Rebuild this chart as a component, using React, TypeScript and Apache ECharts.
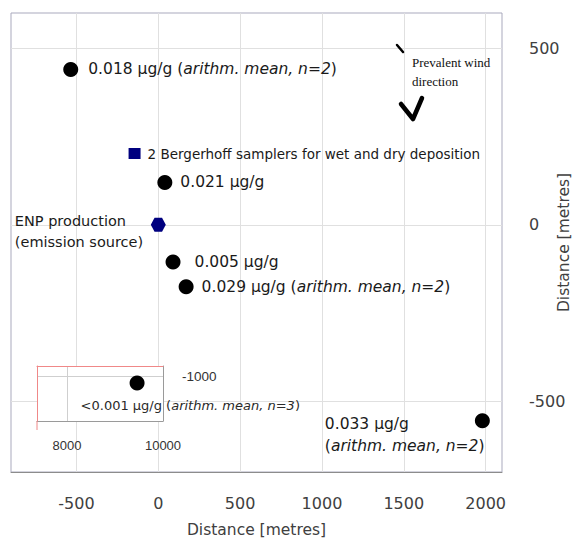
import React, { useEffect, useRef } from 'react';
import * as echarts from 'echarts';

// ---- data ----
const xTicks = [-500, 0, 500, 1000, 1500, 2000];
const yTicks = [-500, 0, 500];
const insetXTicks = [8000, 10000];
const insetYTicks = [-1000];

const sampleLabels = [
  '0.018 μg/g ({i|arithm. mean, n=2})',
  '0.021 μg/g',
  '0.005 μg/g',
  '0.029 μg/g ({i|arithm. mean, n=2})',
  '0.033 μg/g\n({i|arithm. mean, n=2})',
];
const sampleX = [-535, 40, 90, 170, 1980];
const sampleY = [440, 120, -105, -175, -555];

const samplerLabel = '2 Bergerhoff samplers for wet and dry deposition';
const samplerXY = [-145, 202];

const sourceLabel = ['ENP production', '(emission source)'];
const sourceXY = [0, 0];

const farLabel = '<0.001 μg/g ({i|arithm. mean, n=3})';
const farXY = [9460, -1035];

const windText = 'Prevalent wind\ndirection';

// ---- styles ----
const FONT = '"DejaVu Sans", sans-serif';
const TXT = '#1a1a1a';
const sampleLabelStyle: any[] = [
  { position: 'right', distance: 10 },
  { position: 'right', distance: 8 },
  { position: 'right', distance: 14 },
  { position: 'right', distance: 8 },
  { position: [-150, 0], align: 'left', verticalAlign: 'top', lineHeight: 22 },
];

const hexPath = 'path://M-0.5,-0.866 L0.5,-0.866 L1,0 L0.5,0.866 L-0.5,0.866 L-1,0 Z';
const plain = (v: number) => String(v);

export default function App() {
  const ref = useRef<HTMLDivElement>(null);
  useEffect(() => {
    if (!ref.current) return;
    const chart = echarts.init(ref.current, null, { renderer: 'svg' });
    const italic = (size: number, color = TXT) => ({ fontStyle: 'italic', fontSize: size, fontFamily: FONT, color });
    const option: any = {
      animation: false,
      backgroundColor: '#ffffff',
      grid: [
        { left: 11, top: 13, width: 491, height: 459, outerBoundsMode: 'none', containLabel: false, show: true, borderColor: '#a9a9bd', borderWidth: 1, backgroundColor: 'transparent' },
        { left: 37, top: 366, width: 126, height: 55, outerBoundsMode: 'none', containLabel: false, show: true, backgroundColor: '#ffffff', borderWidth: 0, z: 2 },
      ],
      xAxis: [
        {
          gridIndex: 0, type: 'value', min: -900, max: 2100, position: 'bottom',
          axisLine: { show: true, onZero: false, lineStyle: { color: '#8c8c8c' } },
          axisTick: { show: false, customValues: xTicks },
          axisLabel: { customValues: xTicks, formatter: plain, margin: 23, fontSize: 16, fontFamily: FONT, color: '#404040' },
          splitLine: { show: true, lineStyle: { color: '#e0e0e0' } },
          name: 'Distance [metres]', nameLocation: 'middle', nameGap: 50, nameMoveOverlap: false,
          nameTextStyle: { fontSize: 15.5, fontFamily: FONT, color: '#404040' },
        },
        {
          gridIndex: 1, type: 'value', min: 7375, max: 10000, position: 'bottom', z: 3,
          axisLine: { show: true, onZero: false, lineStyle: { color: '#9a9a9a' } },
          axisTick: { show: false, customValues: insetXTicks },
          axisLabel: { customValues: insetXTicks, formatter: plain, margin: 18, fontSize: 13, fontFamily: '"Liberation Sans", Arial, sans-serif', color: '#333' },
          splitLine: { show: true, lineStyle: { color: '#cfcfcf' } },
        },
        {
          gridIndex: 1, type: 'value', min: 7375, max: 10000, position: 'top', z: 3,
          axisLine: { show: true, onZero: false, lineStyle: { color: '#f08888' } },
          axisTick: { show: false }, axisLabel: { show: false }, splitLine: { show: false },
        },
      ],
      yAxis: [
        {
          gridIndex: 0, type: 'value', min: -700, max: 600, position: 'right',
          axisLine: { show: false, onZero: false },
          axisTick: { show: false, customValues: yTicks },
          axisLabel: { customValues: yTicks, formatter: plain, margin: 27, fontSize: 16, fontFamily: FONT, color: '#404040' },
          splitLine: { show: true, lineStyle: { color: '#e0e0e0' } },
          name: 'Distance [metres]', nameLocation: 'middle', nameRotate: 90, nameGap: 54, nameMoveOverlap: false,
          nameTextStyle: { fontSize: 15.5, fontFamily: FONT, color: '#404040' },
        },
        {
          gridIndex: 1, type: 'value', min: -1225, max: -950, position: 'right', z: 3,
          axisLine: { show: true, onZero: false, lineStyle: { color: '#9a9a9a' } },
          axisTick: { show: false, customValues: insetYTicks },
          axisLabel: { customValues: insetYTicks, formatter: plain, margin: 19, fontSize: 13.5, fontFamily: '"Liberation Sans", Arial, sans-serif', color: '#333' },
          splitLine: { show: true, lineStyle: { color: '#cfcfcf' } },
        },
        {
          gridIndex: 1, type: 'value', min: -1225, max: -950, position: 'left', z: 3,
          axisLine: { show: true, onZero: false, lineStyle: { color: '#f08888' } },
          axisTick: { show: false }, axisLabel: { show: false }, splitLine: { show: false },
        },
      ],
      series: [
        {
          type: 'scatter', xAxisIndex: 0, yAxisIndex: 0, symbol: 'circle', symbolSize: 15,
          itemStyle: { color: '#000000', opacity: 1 }, clip: false, z: 2,
          data: sampleX.map((x, i) => ({
            value: [x, sampleY[i]],
            label: {
              show: true, formatter: sampleLabels[i], fontSize: 15.5, fontFamily: FONT, color: TXT,
              rich: { i: { ...italic(15.5), lineHeight: sampleLabelStyle[i].lineHeight } },
              ...sampleLabelStyle[i],
            },
          })),
        },
        {
          type: 'scatter', xAxisIndex: 0, yAxisIndex: 0, symbol: 'rect', symbolSize: [12, 11],
          itemStyle: { color: '#00007f', opacity: 1 }, clip: false, z: 2,
          data: [{
            value: samplerXY,
            label: { show: true, position: 'right', distance: 7, formatter: samplerLabel, fontSize: 13.5, fontFamily: FONT, color: TXT },
          }],
        },
        {
          type: 'scatter', xAxisIndex: 0, yAxisIndex: 0, symbol: hexPath, symbolSize: [15, 14],
          itemStyle: { color: '#00007f', opacity: 1 }, clip: false, z: 2,
          data: [{
            value: sourceXY,
            label: {
              show: true, formatter: sourceLabel.join('\n'), position: [-136, -7], align: 'left', verticalAlign: 'top',
              fontSize: 14.5, lineHeight: 21, fontFamily: FONT, color: TXT,
            },
          }],
        },
        {
          type: 'scatter', xAxisIndex: 1, yAxisIndex: 1, symbol: 'circle', symbolSize: 15,
          itemStyle: { color: '#000000', opacity: 1 }, clip: false, z: 5,
          data: [{
            value: farXY,
            label: {
              show: true, formatter: farLabel, position: [-49, 30], align: 'left', verticalAlign: 'middle',
              fontSize: 13, fontFamily: FONT, color: '#2a2a2a', rich: { i: italic(13, '#2a2a2a') },
            },
          }],
        },
      ],
      graphic: [
        { type: 'line', z: 10, shape: { x1: 37, y1: 421, x2: 37, y2: 430 }, style: { stroke: '#f08888', lineWidth: 1 } },
        { type: 'line', z: 10, shape: { x1: 397, y1: 45, x2: 403, y2: 52 }, style: { stroke: '#000', lineWidth: 2.5, lineCap: 'round' } },
        { type: 'polyline', z: 10, shape: { points: [[401, 104], [413, 119], [422, 98]] }, style: { stroke: '#000', fill: null, lineWidth: 4.5, lineJoin: 'round', lineCap: 'round' } },
        { type: 'text', z: 10, x: 412, y: 52.5, style: { text: windText, font: '13px "Liberation Serif", "Times New Roman", serif', lineHeight: 19, fill: '#111' } },
      ],
    };
    chart.setOption(option);
    return () => chart.dispose();
  }, []);
  return <div ref={ref} style={{ position: 'fixed', left: 0, top: 0, width: 573, height: 538 }} />;
}
